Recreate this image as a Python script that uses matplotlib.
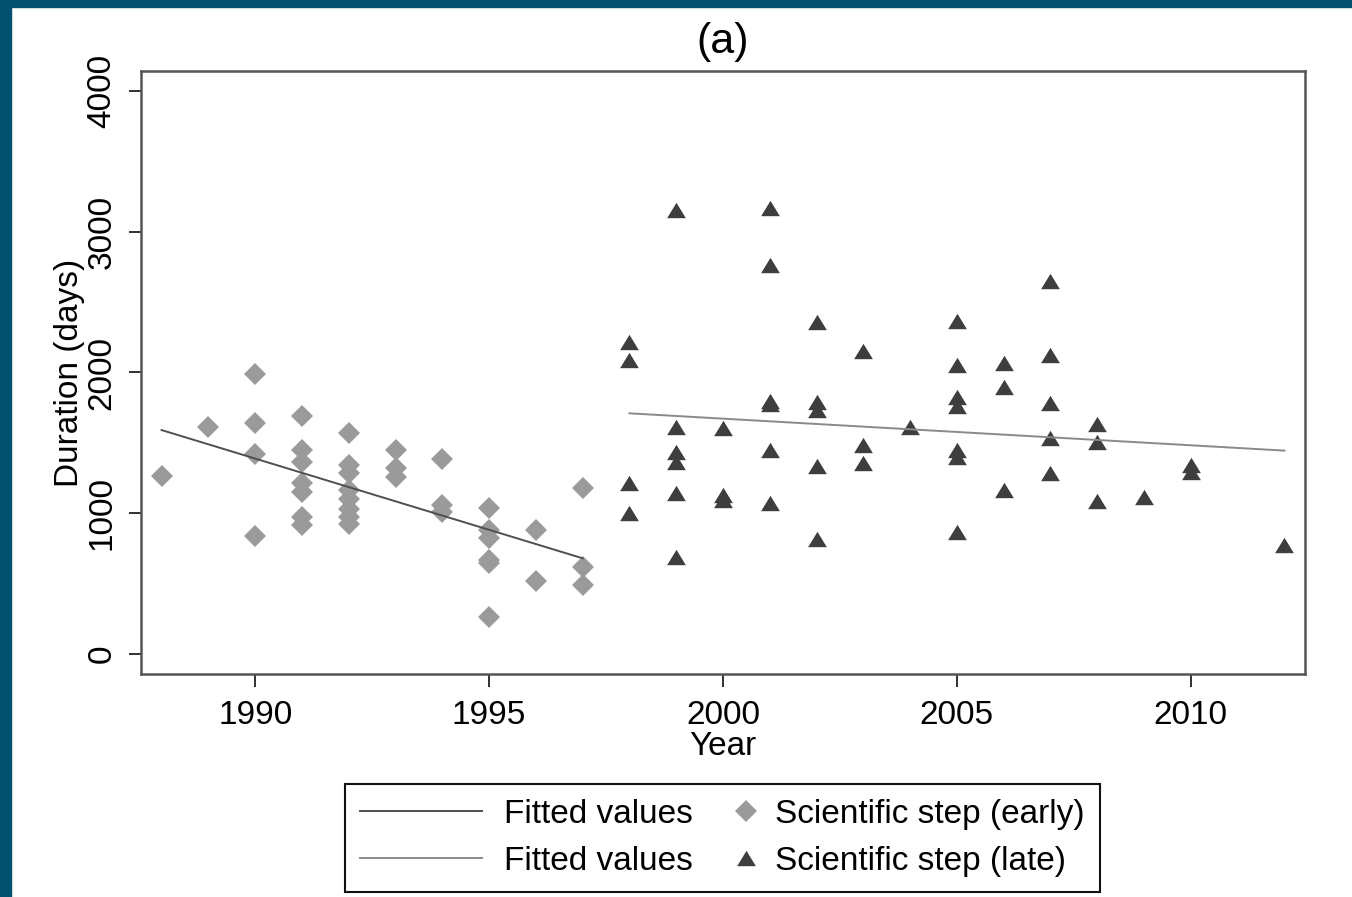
import numpy as np
import matplotlib
matplotlib.use("Agg")
import matplotlib.pyplot as plt
from matplotlib.lines import Line2D
from matplotlib.patches import Rectangle
from matplotlib.legend_handler import HandlerLine2D

plt.rcParams["font.family"] = ["Liberation Sans", "DejaVu Sans"]

# ── Data ──────────────────────────────────────────────────────
early_year = [1988, 1989,
              1990, 1990, 1990, 1990,
              1991, 1991, 1991, 1991, 1991, 1991, 1991,
              1992, 1992, 1992, 1992, 1992, 1992, 1992, 1992,
              1993, 1993, 1993,
              1994, 1994, 1994,
              1995, 1995, 1995, 1995, 1995, 1995,
              1996, 1996,
              1997, 1997, 1997]
early_days = [1267, 1611,
              1987, 1643, 1419, 841,
              1693, 1449, 1366, 1213, 1153, 975, 917,
              1568, 1340, 1285, 1165, 1100, 1030, 970, 925,
              1449, 1319, 1260,
              1383, 1059, 1011,
              1035, 881, 822, 670, 645, 265,
              881, 521,
              1177, 620, 490]

late_year = [1998, 1998, 1998, 1998,
             1999, 1999, 1999, 1999, 1999, 1999,
             2000, 2000, 2000,
             2001, 2001, 2001, 2001, 2001, 2001,
             2002, 2002, 2002, 2002, 2002,
             2003, 2003, 2003,
             2004,
             2005, 2005, 2005, 2005, 2005, 2005, 2005,
             2006, 2006, 2006,
             2007, 2007, 2007, 2007, 2007,
             2008, 2008, 2008,
             2009,
             2010, 2010,
             2012]
late_days = [2214, 2089, 1213, 1000,
             3155, 1615, 1437, 1366, 1142, 691,
             1603, 1130, 1094,
             3166, 2764, 1800, 1776, 1449, 1075,
             2361, 1793, 1734, 1336, 815,
             2155, 1485, 1355,
             1610,
             2368, 2053, 1825, 1760, 1449, 1402, 869,
             2065, 1899, 1165,
             2652, 2124, 1781, 1533, 1284,
             1634, 1508, 1089,
             1118,
             1343, 1295,
             774]

# fitted lines (end points)
fit_early_x = [1988, 1997]
fit_early_y = [1591, 680]
fit_late_x = [1998, 2012]
fit_late_y = [1710, 1445]

x_ticks = [1990, 1995, 2000, 2005, 2010]
y_ticks = [0, 1000, 2000, 3000, 4000]

FS = 24
EARLY_C = "#9a9a9a"
LATE_C = "#3e3e3e"

# triangle a bit flatter than matplotlib's '^'
tri = [(-1, -0.82), (1, -0.82), (0, 0.82), (-1, -0.82)]


class RightMarker(HandlerLine2D):
    # put the marker near the right end of the handle box
    def get_xdata(self, legend, xdescent, ydescent, width, height, fontsize):
        xm = -xdescent + width - 0.2 * fontsize
        return [xm, xm], [xm]


# ── Figure ────────────────────────────────────────────────────
fig = plt.figure(figsize=(13.52, 8.97), dpi=100)
fig.patches.append(Rectangle((0, 1 - 7 / 897), 1, 7 / 897, transform=fig.transFigure,
                             color="#03506f", zorder=0))
fig.patches.append(Rectangle((0, 0), 11 / 1352, 1, transform=fig.transFigure,
                             color="#03506f", zorder=0))

ax = fig.add_axes([141 / 1352, 1 - 674 / 897, (1305 - 141) / 1352, (674 - 71) / 897])

sc1, = ax.plot(early_year, early_days, linestyle="none", marker="D", markersize=11,
               color=EARLY_C, markeredgewidth=0, zorder=2)
sc2, = ax.plot(late_year, late_days, linestyle="none", marker=tri, markersize=13.5,
               color=LATE_C, markeredgewidth=0, zorder=2)
ln1, = ax.plot(fit_early_x, fit_early_y, color="#4f4f4f", linewidth=1.4, zorder=3)
ln2, = ax.plot(fit_late_x, fit_late_y, color="#8a8a8a", linewidth=1.4, zorder=3)

ax.set_xlim(1987.56, 2012.44)
ax.set_ylim(-142, 4142)

ax.set_xticks(x_ticks)
ax.set_xticklabels([str(v) for v in x_ticks], fontsize=FS)
ax.set_yticks(y_ticks)
ax.set_yticklabels([str(v) for v in y_ticks], fontsize=FS, rotation=90, va="center")
ax.tick_params(axis="both", direction="out", length=9, width=1.3, color="#222222")
ax.tick_params(axis="x", pad=10)
ax.tick_params(axis="y", pad=8)

for sp in ax.spines.values():
    sp.set_color("#555555")
    sp.set_linewidth(1.8)

ax.set_xlabel("Year", fontsize=FS, labelpad=0)
ax.set_ylabel("Duration (days)", fontsize=FS, labelpad=1)
ax.set_title("(a)", fontsize=31, pad=13)

leg = fig.legend([ln1, ln2, sc1, sc2],
                 ["Fitted values", "Fitted values",
                  "Scientific step (early)", "Scientific step (late)"],
                 ncol=2, loc="center", bbox_to_anchor=(722.5 / 1352, 1 - 838 / 897),
                 bbox_transform=fig.transFigure, fontsize=FS,
                 handlelength=3.65, handletextpad=0.66, columnspacing=-1.85,
                 labelspacing=0.48, borderpad=0.45, fancybox=False, framealpha=1,
                 edgecolor="#111111", handler_map={sc1: RightMarker(numpoints=1),
                                                   sc2: RightMarker(numpoints=1)})
leg.get_frame().set_linewidth(1.5)

plt.savefig("out.png", dpi=100)
